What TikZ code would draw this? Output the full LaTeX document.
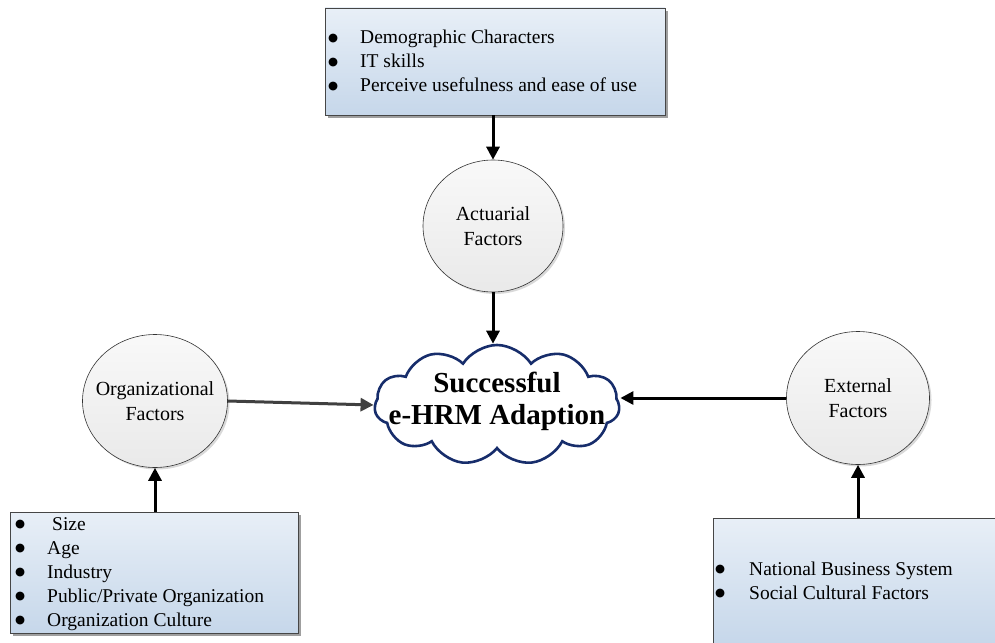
\documentclass[tikz,border=0pt]{standalone}
\usepackage{fontspec}
\setmainfont{Liberation Serif}
\newfontfamily\dejavu{DejaVu Sans}
\usetikzlibrary{shapes.symbols,shapes.geometric,arrows.meta,shadows}
\definecolor{boxtop}{HTML}{E8EFF7}
\definecolor{boxbot}{HTML}{C6D7EA}
\definecolor{cloudline}{HTML}{172D6B}
\definecolor{darkarrow}{HTML}{404040}
\newcommand{\bul}[1]{\makebox[#1][l]{\hspace{-1pt}\raisebox{2.6pt}{\dejavu\fontsize{11.5}{11.5}\selectfont ●}}}
\begin{document}
\begin{tikzpicture}[x=1pt,y=-1pt,
  listbox/.style={rectangle, draw=gray!55!black, line width=0.8pt,
    top color=boxtop, bottom color=boxbot,
    drop shadow={shadow xshift=3pt, shadow yshift=-3pt, fill=gray!75, opacity=1},
    inner sep=0pt},
  listtext/.style={anchor=west, inner sep=0pt, align=left,
    font=\fontsize{19.5}{24}\selectfont},
  factor/.style={ellipse, draw=gray!40!black, line width=0.6pt,
    top color=gray!5, bottom color=gray!17,
    drop shadow={shadow xshift=2pt, shadow yshift=-2pt, fill=gray!30, opacity=1},
    inner sep=0pt},
  factortext/.style={align=center, inner sep=0pt, font=\fontsize{20}{25}\selectfont},
  conn/.style={line width=3pt, -{Triangle[length=13pt,width=13pt]}}
]
\useasboundingbox (0,0) rectangle (995,642);

% boxes
\node[listbox, minimum width=340pt, minimum height=107pt] (topbox) at (495,61.5) {};
\node[listtext] (toptext) at (329,61) {\bul{31pt}Demographic Characters\\
\bul{31pt}IT skills\\
\bul{31pt}Perceive usefulness and ease of use};

\node[listbox, minimum width=288pt, minimum height=121pt] (leftbox) at (154,572.5) {};
\node[listtext] (lefttext) at (16,574) {\bul{31pt}\hspace{5pt}Size\\
\bul{31pt}Age\\
\bul{31pt}Industry\\
\bul{31pt}Public/Private Organization\\
\bul{31pt}Organization Culture};

\node[listbox, minimum width=286pt, minimum height=126pt, drop shadow={opacity=0}] (rightbox) at (856,581) {};
\node[listtext] (righttext) at (716,580.5) {\bul{33pt}National Business System\\
\bul{33pt}Social Cultural Factors};

% factor circles
\node[factor, minimum width=140pt, minimum height=132pt] (act) at (493,226) {};
\node[factortext] (acttext) at (act.center) {Actuarial\\Factors};
\node[factor, minimum width=145pt, minimum height=133pt] (org) at (155,401) {};
\node[factortext] (orgtext) at (org.center) {Organizational\\Factors};
\node[factor, minimum width=143pt, minimum height=133pt] (ext) at (858,398) {};
\node[factortext] (exttext) at (ext.center) {External\\Factors};

% cloud
\node[cloud, cloud puffs=11, cloud puff arc=115, aspect=2,
  draw=cloudline, line width=2.6pt, fill=white,
  minimum width=245pt, minimum height=120pt, inner sep=0pt] (cloud) at (497,405) {};
\node[align=center, inner sep=0pt, font=\bfseries\fontsize{29}{32}\selectfont] (cloudtext) at (497,401) {Successful\\e-HRM Adaption};

% connectors
\draw[conn] (topbox.south -| act.north) -- (act.north);
\draw[conn] (act.south) -- (act.south |- cloud.north);
\draw[conn, darkarrow] (org.east) -- (cloud.west);
\draw[conn] (ext.west) -- (ext.west -| cloud.east);
\draw[conn] (leftbox.north -| org.south) -- (org.south);
\draw[conn] (rightbox.north -| ext.south) -- (ext.south);
\end{tikzpicture}
\end{document}
